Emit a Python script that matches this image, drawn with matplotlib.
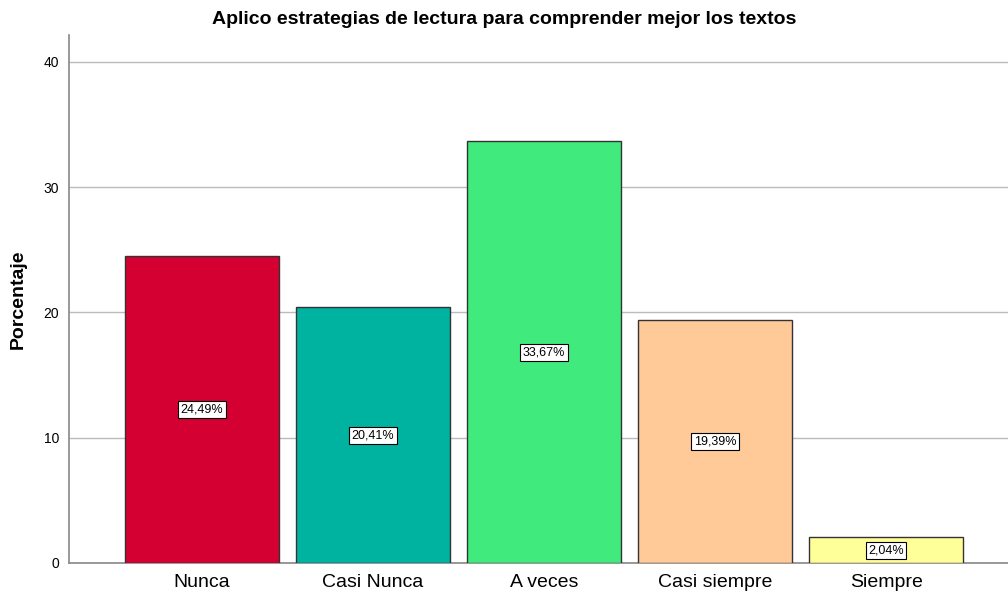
import matplotlib.pyplot as plt

categorias = ['Nunca', 'Casi Nunca', 'A veces', 'Casi siempre', 'Siempre']
porcentajes = [24.49, 20.41, 33.67, 19.39, 2.04]
etiquetas = ['24,49%', '20,41%', '33,67%', '19,39%', '2,04%']
colores = ['#D50032', '#00B3A0', '#41EA7D', '#FFCA98', '#FFFF99']

plt.rcParams['font.family'] = ['Liberation Sans', 'DejaVu Sans']

fig = plt.figure(figsize=(10.08, 5.93), dpi=100)
ax = fig.add_axes([69/1008, 1 - 563/593, (1008 - 69)/1008, (563 - 35)/593])

x = range(len(categorias))
ax.bar(x, porcentajes, width=0.9, color=colores, edgecolor='#333333', linewidth=1, zorder=3)

# value labels in the middle of each bar
for xi, v, lab in zip(x, porcentajes, etiquetas):
    ax.text(xi, v/2, lab, ha='center', va='center', fontsize=9, zorder=4,
            bbox=dict(boxstyle='square,pad=0.2', fc='white', ec='black', lw=0.8))

ax.set_xlim(-0.778, 4.713)
ax.set_ylim(0, 42.15)
ax.set_yticks([0, 10, 20, 30, 40])
ax.set_xticks(list(x))
ax.set_xticklabels(categorias, fontsize=14)
ax.tick_params(axis='both', length=0, colors='black')
ax.tick_params(axis='y', labelsize=10, pad=7)
ax.tick_params(axis='x', pad=8)
ax.grid(axis='y', color='#BBBBBB', linewidth=1, zorder=0)

for s in ['top', 'right']:
    ax.spines[s].set_visible(False)
for s in ['left', 'bottom']:
    ax.spines[s].set_color('#888888')
    ax.spines[s].set_linewidth(1.2)

ax.set_ylabel('Porcentaje', fontsize=14, fontweight='bold', labelpad=12)
fig.text(0.5, 1 - 19/593, 'Aplico estrategias de lectura para comprender mejor los textos',
         ha='center', va='center', fontsize=14, fontweight='bold')

plt.savefig('out.png', dpi=100)
